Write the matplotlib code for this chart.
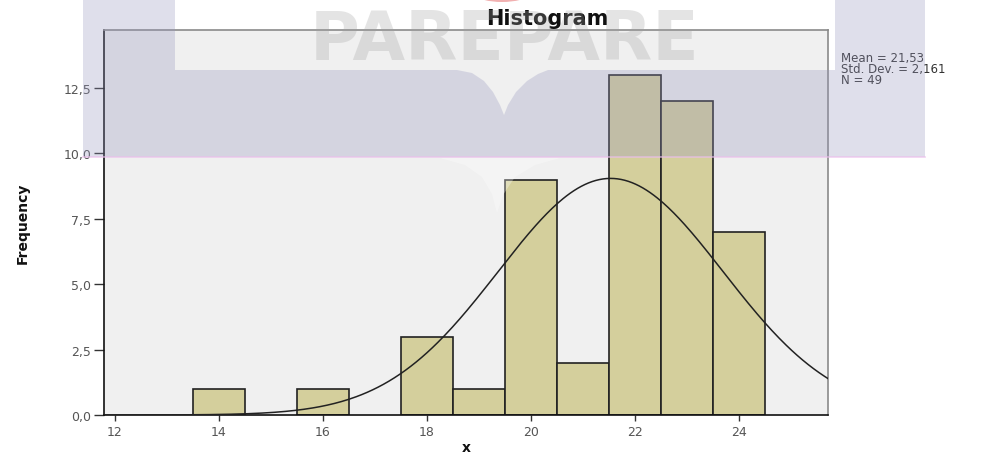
import numpy as np
import matplotlib
matplotlib.use("Agg")
import matplotlib.pyplot as plt
from matplotlib.patches import Polygon, Ellipse

# histogram of x (bin width 1, centred on integers)
bin_centers = [14, 16, 18, 19, 20, 21, 22, 23, 24]
counts = [1, 1, 3, 1, 9, 2, 13, 12, 7]
mean_x = 21.53
std_x = 2.161
n_obs = 49

y_ticks = [0.0, 2.5, 5.0, 7.5, 10.0, 12.5]
y_labels = ["0,0", "2,5", "5,0", "7,5", "10,0", "12,5"]
x_ticks = [12, 14, 16, 18, 20, 22, 24]

plt.rcParams['font.family'] = ['DejaVu Sans']

fig = plt.figure(figsize=(9.9, 4.6), dpi=100)
fig.patch.set_facecolor("white")
ax = fig.add_axes([104 / 990, 1 - 416 / 460, (828 - 104) / 990, (416 - 31) / 460])
ax.set_facecolor("#f0f0f0")

ax.bar(bin_centers, counts, width=1.0, color="#d4cf9c", edgecolor="#222222",
       linewidth=1.2, zorder=2)

# normal curve scaled to counts
xs = np.linspace(11.79, 25.71, 400)
pdf = np.exp(-0.5 * ((xs - mean_x) / std_x) ** 2) / (std_x * np.sqrt(2 * np.pi))
ax.plot(xs, n_obs * 1.0 * pdf, color="#222222", lw=1.1, zorder=3)

ax.set_xlim(11.79, 25.71)
ax.set_ylim(0, 14.72)
ax.set_yticks(y_ticks)
ax.set_yticklabels(y_labels)
ax.set_xticks(x_ticks)
ax.tick_params(axis="y", length=7, width=1, color="#333333", labelcolor="#555555",
               labelsize=9, pad=2)
ax.tick_params(axis="x", length=4, width=1, color="#333333", labelcolor="#555555",
               labelsize=9, pad=3)

for side in ["left", "bottom"]:
    ax.spines[side].set_color("#111111")
    ax.spines[side].set_linewidth(1.2)
for side in ["top", "right"]:
    ax.spines[side].set_color("#8a8a8a")
    ax.spines[side].set_linewidth(1.2)

ax.set_ylabel("Frequency", fontsize=10, fontweight="bold", color="#111111")
ax.yaxis.set_label_coords(-74 / 724, 0.5)
ax.set_xlabel("x", fontsize=10, fontweight="bold", color="#111111", labelpad=2)

fig.text(547 / 990, 1 - 19 / 460, "Histogram", ha="center", va="center",
         fontsize=15, fontweight="bold", color="#111111")

fig.text(841 / 990, 1 - 52 / 460,
         "Mean = %s\nStd. Dev. = %s\nN = %d" % (str(mean_x).replace(".", ","),
                                                str(std_x).replace(".", ","), n_obs),
         ha="left", va="top", fontsize=8.5, color="#333333", linespacing=0.8)

# watermark layer in pixel coordinates
ov = fig.add_axes([0, 0, 1, 1], zorder=10)
ov.set_xlim(0, 990)
ov.set_ylim(460, 0)
ov.axis("off")
ov.patch.set_alpha(0)

band = [(83, 0), (175, 0), (175, 71), (457, 71), (472, 74), (484, 82), (493, 93),
        (500, 106), (504, 116), (508, 106), (516, 93), (527, 82), (538, 75),
        (548, 71), (835, 71), (835, 0), (925, 0), (925, 158), (83, 158)]
ov.add_patch(Polygon(band, closed=True, facecolor=(150 / 255, 150 / 255, 190 / 255),
                     alpha=0.3, edgecolor="none"))
ov.plot([83, 925], [158, 158], color=(235 / 255, 190 / 255, 235 / 255), lw=1.2, alpha=0.7)

tip = [(440, 159), (465, 166), (482, 178), (492, 195), (497, 214), (503, 196),
       (515, 178), (535, 166), (560, 159)]
ov.add_patch(Polygon(tip, closed=True, facecolor="white", alpha=0.3, edgecolor="none"))

ov.add_patch(Ellipse((502, -4), 50, 14, facecolor="#e05050", alpha=0.45, edgecolor="none"))

ov.text(505, 41, "PAREPARE", ha="center", va="center", fontsize=49,
        fontweight="bold", color="#a0a0a0", alpha=0.28)

fig.savefig("out.png", dpi=100)
